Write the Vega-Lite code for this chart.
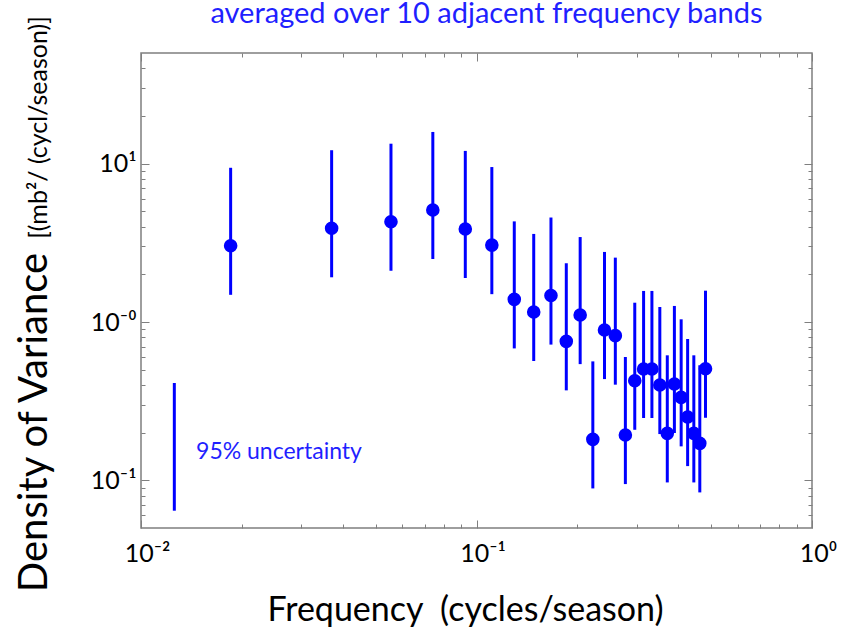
{
  "$schema": "https://vega.github.io/schema/vega-lite/v6.json",
  "width": 671,
  "height": 475,
  "autosize": {"type": "none"},
  "padding": {"left": 141, "top": 53, "right": 39, "bottom": 101},
  "background": "white",
  "title": {
    "text": "averaged over 10 adjacent frequency bands",
    "color": "#1f1fff",
    "font": "Lato",
    "fontSize": 29,
    "fontWeight": "normal",
    "anchor": "middle",
    "baseline": "alphabetic",
    "offset": 12,
    "dx": 10,
    "dy": 48
  },
  "datasets": {
    "pts": [
      {"f": 0.0185, "v": 3.03, "lo": 1.485, "hi": 9.42},
      {"f": 0.0370, "v": 3.91, "lo": 1.916, "hi": 12.16},
      {"f": 0.0556, "v": 4.30, "lo": 2.107, "hi": 13.37},
      {"f": 0.0741, "v": 5.10, "lo": 2.50, "hi": 15.86},
      {"f": 0.0926, "v": 3.87, "lo": 1.896, "hi": 12.04},
      {"f": 0.1111, "v": 3.06, "lo": 1.499, "hi": 9.52},
      {"f": 0.1296, "v": 1.39, "lo": 0.681, "hi": 4.32},
      {"f": 0.1481, "v": 1.157, "lo": 0.567, "hi": 3.60},
      {"f": 0.1667, "v": 1.47, "lo": 0.720, "hi": 4.57},
      {"f": 0.1852, "v": 0.755, "lo": 0.370, "hi": 2.35},
      {"f": 0.2037, "v": 1.107, "lo": 0.542, "hi": 3.44},
      {"f": 0.2222, "v": 0.1815, "lo": 0.0889, "hi": 0.564},
      {"f": 0.2407, "v": 0.890, "lo": 0.436, "hi": 2.77},
      {"f": 0.2593, "v": 0.820, "lo": 0.402, "hi": 2.55},
      {"f": 0.2778, "v": 0.1933, "lo": 0.0947, "hi": 0.601},
      {"f": 0.2963, "v": 0.4258, "lo": 0.2086, "hi": 1.324},
      {"f": 0.3148, "v": 0.505, "lo": 0.2475, "hi": 1.571},
      {"f": 0.3333, "v": 0.505, "lo": 0.2475, "hi": 1.571},
      {"f": 0.3519, "v": 0.400, "lo": 0.196, "hi": 1.244},
      {"f": 0.3704, "v": 0.198, "lo": 0.0970, "hi": 0.616},
      {"f": 0.3889, "v": 0.406, "lo": 0.199, "hi": 1.263},
      {"f": 0.4074, "v": 0.3344, "lo": 0.1639, "hi": 1.040},
      {"f": 0.4259, "v": 0.251, "lo": 0.123, "hi": 0.781},
      {"f": 0.4444, "v": 0.198, "lo": 0.0970, "hi": 0.616},
      {"f": 0.4630, "v": 0.1713, "lo": 0.0839, "hi": 0.533},
      {"f": 0.4815, "v": 0.507, "lo": 0.2484, "hi": 1.577}
    ],
    "unc": [
      {"f": 0.01257, "lo": 0.0643, "hi": 0.412}
    ],
    "lbl": [
      {"f": 0.01459, "v": 0.1517, "text": "95% uncertainty"}
    ]
  },
  "resolve": {"axis": {"x": "independent", "y": "independent"}},
  "layer": [
    {
      "data": {"name": "pts"},
      "mark": {"type": "rule", "color": "#0000ff", "strokeWidth": 3},
      "encoding": {
        "x": {
          "field": "f", "type": "quantitative",
          "scale": {"type": "log", "domain": [0.01, 1], "nice": false},
          "axis": {
            "orient": "bottom",
            "values": [0.01, 0.1, 1],
            "tickSize": -8,
            "labelExpr": "datum.value < 0.05 ? '10⁻²' : (datum.value < 0.5 ? '10⁻¹' : '10⁰')",
            "labelFontSize": 25,
            "labelPadding": 21,
            "labelOffset": 6,
            "labelFlush": false,
            "labelOverlap": false,
            "labelBound": false,
            "title": "Frequency\u00a0 (cycles/season)",
            "titleFontSize": 34,
            "titleBaseline": "alphabetic",
            "titleX": 324,
            "titleY": 92
          }
        },
        "y": {
          "field": "lo", "type": "quantitative",
          "scale": {"type": "log", "domain": [0.05, 50], "nice": false},
          "axis": {
            "orient": "left",
            "values": [0.1, 1, 10],
            "tickSize": -8,
            "labelExpr": "datum.value < 0.5 ? '10⁻¹' : (datum.value < 5 ? '10⁻⁰' : '10¹')",
            "labelFontSize": 25,
            "labelPadding": 13,
            "labelBaseline": "middle",
            "title": "Density of Variance",
            "titleFontSize": 40,
            "titleAngle": -90,
            "titleBaseline": "alphabetic",
            "titleAlign": "center",
            "titleX": -95,
            "titleY": 369
          }
        },
        "y2": {"field": "hi"}
      }
    },
    {
      "data": {"name": "pts"},
      "mark": {"type": "circle", "color": "#0000ff", "size": 185, "opacity": 1},
      "encoding": {
        "x": {
          "field": "f", "type": "quantitative",
          "scale": {"type": "log", "domain": [0.01, 1], "nice": false},
          "axis": {"orient": "top", "values": [0.01, 0.1, 1], "tickSize": -8, "labels": false, "title": null}
        },
        "y": {
          "field": "v", "type": "quantitative",
          "scale": {"type": "log", "domain": [0.05, 50], "nice": false},
          "axis": {"orient": "right", "values": [0.1, 1, 10], "tickSize": -8, "labels": false, "title": null}
        }
      }
    },
    {
      "data": {"name": "unc"},
      "mark": {"type": "rule", "color": "#0000ff", "strokeWidth": 3},
      "encoding": {
        "x": {
          "field": "f", "type": "quantitative",
          "scale": {"type": "log", "domain": [0.01, 1], "nice": false},
          "axis": {"orient": "bottom", "values": [0.02, 0.03, 0.04, 0.05, 0.06, 0.07, 0.08, 0.09, 0.2, 0.3, 0.4, 0.5, 0.6, 0.7, 0.8, 0.9], "tickSize": -4, "labels": false, "title": null}
        },
        "y": {
          "field": "lo", "type": "quantitative",
          "scale": {"type": "log", "domain": [0.05, 50], "nice": false},
          "axis": {
            "orient": "left",
            "values": [0.06, 0.07, 0.08, 0.09, 0.2, 0.3, 0.4, 0.5, 0.6, 0.7, 0.8, 0.9, 2, 3, 4, 5, 6, 7, 8, 9, 20, 30, 40],
            "tickSize": -4,
            "labels": false,
            "title": "[(mb²/ (cycl/season)]",
            "titleFontSize": 25,
            "titleAngle": -90,
            "titleBaseline": "alphabetic",
            "titleAlign": "center",
            "titleX": -95,
            "titleY": 74
          }
        },
        "y2": {"field": "hi"}
      }
    },
    {
      "data": {"name": "lbl"},
      "mark": {"type": "text", "color": "#1f1fff", "font": "Lato", "fontSize": 23, "align": "left", "baseline": "middle"},
      "encoding": {
        "x": {
          "field": "f", "type": "quantitative",
          "scale": {"type": "log", "domain": [0.01, 1], "nice": false},
          "axis": {"orient": "top", "values": [0.02, 0.03, 0.04, 0.05, 0.06, 0.07, 0.08, 0.09, 0.2, 0.3, 0.4, 0.5, 0.6, 0.7, 0.8, 0.9], "tickSize": -4, "labels": false, "title": null}
        },
        "y": {
          "field": "v", "type": "quantitative",
          "scale": {"type": "log", "domain": [0.05, 50], "nice": false},
          "axis": {"orient": "right", "values": [0.06, 0.07, 0.08, 0.09, 0.2, 0.3, 0.4, 0.5, 0.6, 0.7, 0.8, 0.9, 2, 3, 4, 5, 6, 7, 8, 9, 20, 30, 40], "tickSize": -4, "labels": false, "title": null}
        },
        "text": {"field": "text", "type": "nominal"}
      }
    }
  ],
  "config": {
    "font": "Lato",
    "view": {"stroke": "#7f7f7f", "strokeWidth": 1.5},
    "axis": {
      "grid": false,
      "domain": false,
      "tickColor": "#7f7f7f",
      "tickWidth": 1,
      "labelFont": "Lato",
      "titleFont": "Lato",
      "labelColor": "#000000",
      "titleColor": "#000000",
      "titleFontWeight": "normal"
    }
  }
}
